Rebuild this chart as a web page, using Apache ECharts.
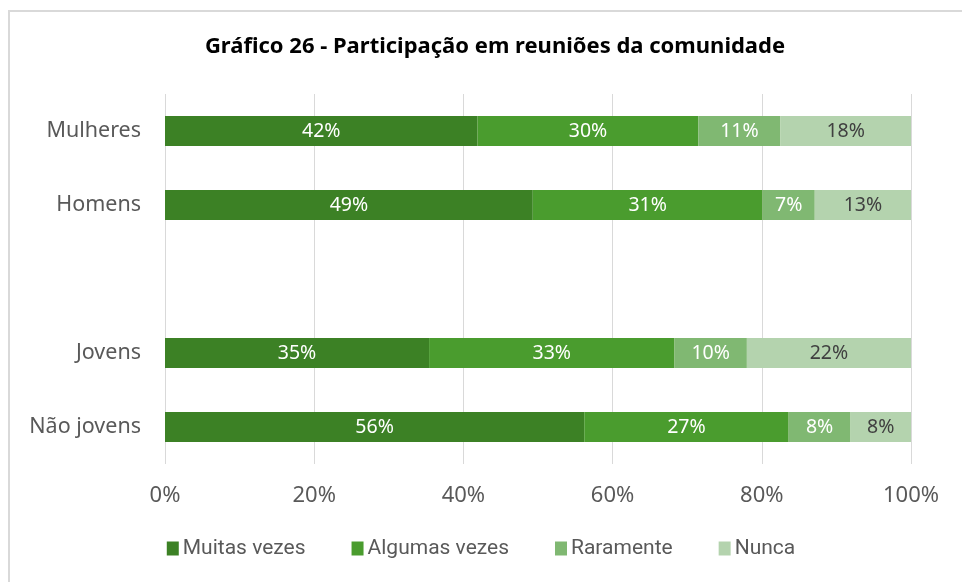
<!DOCTYPE html>
<html>
<head>
<meta charset="utf-8">
<script src="https://cdn.jsdelivr.net/npm/echarts@6/dist/echarts.min.js"></script>
<style>
  html, body { margin: 0; padding: 0; background: #fff; }
  #chart { width: 962px; height: 582px; }
</style>
</head>
<body>
<div id="chart"></div>
<script>
const categories = ['Mulheres', 'Homens', '', 'Jovens', 'Não jovens']
const seriesNames = ['Muitas vezes', 'Algumas vezes', 'Raramente', 'Nunca']
const muitasVezes = [41.9, 49.3, null, 35.4, 56.2]
const algumasVezes = [29.6, 30.8, null, 32.9, 27.4]
const raramente = [11.0, 7.0, null, 9.7, 8.3]
const nunca = [17.5, 12.9, null, 22.0, 8.1]
const xTicks = [0, 20, 40, 60, 80, 100]

const colors = ['#3c8125', '#4a9c2e', '#80b872', '#b4d3ae']
const labelColors = ['#ffffff', '#ffffff', '#ffffff', '#404040']
const values = [muitasVezes, algumasVezes, raramente, nunca]
const fontFamily = 'Noto Sans'

const chart = echarts.init(document.getElementById('chart'))

const series = seriesNames.map((name, i) => ({
  name: name,
  type: 'bar',
  stack: 'total',
  data: values[i],
  barWidth: 30,
  itemStyle: { color: colors[i] },
  label: {
    show: true,
    position: 'inside',
    color: labelColors[i],
    fontFamily: fontFamily,
    fontSize: 19.5,
    formatter: (p) => Math.round(p.value) + '%'
  },
  emphasis: { disabled: true }
}))

const option = {
  animation: false,
  title: {
    text: 'Gráfico 26 - Participação em reuniões da comunidade',
    left: 490,
    top: 31,
    textAlign: 'center',
    textStyle: {
      fontFamily: fontFamily,
      fontSize: 22,
      fontWeight: 'bold',
      color: '#000000'
    }
  },
  graphic: [
    {
      type: 'line',
      shape: { x1: 8, y1: 11, x2: 962, y2: 11 },
      style: { stroke: '#d9d9d9', lineWidth: 2 }
    },
    {
      type: 'line',
      shape: { x1: 9, y1: 10, x2: 9, y2: 582 },
      style: { stroke: '#d9d9d9', lineWidth: 2 }
    }
  ],
  legend: {
    data: seriesNames,
    top: 533,
    left: 'center',
    itemWidth: 12,
    itemHeight: 14,
    itemGap: 46,
    icon: 'rect',
    textStyle: {
      fontFamily: 'Roboto',
      fontSize: 21,
      color: '#595959',
      padding: [0, 0, 0, -1]
    }
  },
  grid: {
    left: 165,
    right: 51,
    top: 94,
    bottom: 118
  },
  xAxis: {
    type: 'value',
    min: 0,
    max: 100,
    interval: 20,
    axisLine: { show: false },
    axisTick: { show: false },
    splitLine: { lineStyle: { color: '#d9d9d9', width: 1 } },
    axisLabel: {
      margin: 21,
      fontFamily: fontFamily,
      fontSize: 22,
      color: '#595959',
      formatter: (v) => xTicks.includes(v) ? v + '%' : ''
    }
  },
  yAxis: {
    type: 'category',
    inverse: true,
    data: categories,
    axisLine: { show: false },
    axisTick: { show: false },
    axisLabel: {
      margin: 24,
      fontFamily: fontFamily,
      fontSize: 21.5,
      color: '#595959'
    }
  },
  series: series
}

chart.setOption(option)
</script>
</body>
</html>
